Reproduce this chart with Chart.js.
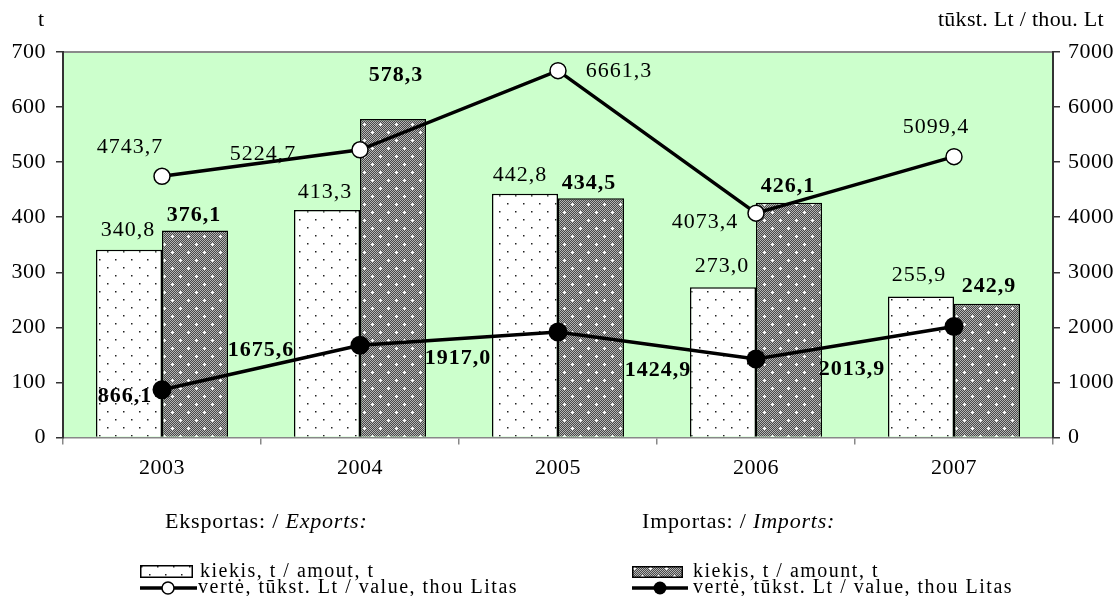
<!DOCTYPE html>
<html><head><meta charset="utf-8">
<script src="https://cdn.jsdelivr.net/npm/chart.js@4/dist/chart.umd.min.js"></script>
<style>
html,body{margin:0;padding:0;background:#fff;}
#wrap{position:relative;width:1118px;height:596px;overflow:hidden;}
#c{position:absolute;left:0;top:0;}
.tx{position:absolute;font-family:"Liberation Serif","Times New Roman",serif;color:#000;white-space:nowrap;line-height:22px;}
.hd{font-size:22px;letter-spacing:0.8px;}
.ti{font-size:22px;letter-spacing:0.3px;}
.it{font-size:20px;letter-spacing:1.5px;}
.sym{position:absolute;}
</style></head><body>
<div id="wrap">
<canvas id="c" width="1118" height="596"></canvas>
<div class="tx ti" style="left:38px;top:8px">t</div>
<div class="tx ti" style="right:14px;top:8px">tūkst. Lt / thou. Lt</div>
<div class="tx hd" style="left:165px;top:510px">Eksportas: / <i>Exports:</i></div>
<div class="tx hd" style="left:642px;top:510px">Importas: / <i>Imports:</i></div>
<canvas class="sym" id="s1" width="60" height="16" style="left:138px;top:563px"></canvas>
<div class="tx it" style="left:200px;top:559px">kiekis, t / amout, t</div>
<canvas class="sym" id="s2" width="60" height="20" style="left:138px;top:578px"></canvas>
<div class="tx it" style="left:198px;top:575px">vertė, tūkst. Lt / value, thou Litas</div>
<canvas class="sym" id="s3" width="60" height="16" style="left:630px;top:564px"></canvas>
<div class="tx it" style="left:693px;top:559px">kiekis, t / amount, t</div>
<canvas class="sym" id="s4" width="60" height="20" style="left:630px;top:578px"></canvas>
<div class="tx it" style="left:693px;top:575px">vertė, tūkst. Lt / value, thou Litas</div>
</div>
<script>
const years = ['2003', '2004', '2005', '2006', '2007'];
const exportAmount = [340.8, 413.3, 442.8, 273.0, 255.9];
const importAmount = [376.1, 578.3, 434.5, 426.1, 242.9];
const exportValue = [4743.7, 5224.7, 6661.3, 4073.4, 5099.4];
const importValue = [866.1, 1675.6, 1917.0, 1424.9, 2013.9];
const leftTickValues = [0, 100, 200, 300, 400, 500, 600, 700];
const rightTickValues = [0, 1000, 2000, 3000, 4000, 5000, 6000, 7000];

const FONT = '"Liberation Serif","Times New Roman",serif';
const fmt = v => v.toFixed(1).replace('.', ',');

function dotTile(){
  const c=document.createElement('canvas'); c.width=16; c.height=16;
  const g=c.getContext('2d');
  g.fillStyle='#fff'; g.fillRect(0,0,16,16);
  g.fillStyle='#222';
  g.fillRect(3,3,1.5,1.5); g.fillRect(11,11,1.5,1.5);
  return c;
}
function checkTile(){
  const c=document.createElement('canvas'); c.width=16; c.height=16;
  const g=c.getContext('2d');
  const im=g.createImageData(16,16);
  for(let y=0;y<16;y++)for(let x=0;x<16;x++){
    const v=((x+y)%2)?0x48:0xb4; const i=(y*16+x)*4;
    im.data[i]=v;im.data[i+1]=v;im.data[i+2]=v;im.data[i+3]=255;
  }
  const plus=(px,py)=>{[[0,0],[1,0],[-1,0],[0,1],[0,-1]].forEach(([dx,dy])=>{const i=((py+dy)*16+(px+dx))*4;im.data[i]=255;im.data[i+1]=255;im.data[i+2]=255;});};
  plus(4,4); plus(12,12);
  g.putImageData(im,0,0);
  return c;
}
const cctx=document.getElementById('c').getContext('2d');
const dotPat=cctx.createPattern(dotTile(),'repeat');
const chkPat=cctx.createPattern(checkTile(),'repeat');

// legend symbols
(function(){
  const a=document.getElementById('s1').getContext('2d');
  a.fillStyle=a.createPattern(dotTile(),'repeat'); a.fillRect(2,2,53,13);
  a.strokeStyle='#000'; a.lineWidth=1.5; a.strokeRect(2.75,2.75,51.5,11.5);
  const b=document.getElementById('s3').getContext('2d');
  b.fillStyle=b.createPattern(checkTile(),'repeat'); b.fillRect(2,2,51,12);
  b.strokeStyle='#000'; b.lineWidth=1.5; b.strokeRect(2.75,2.75,49.5,10.5);
  const l1=document.getElementById('s2').getContext('2d');
  l1.strokeStyle='#000'; l1.lineWidth=3.5; l1.beginPath(); l1.moveTo(2,10); l1.lineTo(59,10); l1.stroke();
  l1.beginPath(); l1.arc(30,10,6,0,Math.PI*2); l1.fillStyle='#fff'; l1.fill(); l1.lineWidth=1.5; l1.stroke();
  const l2=document.getElementById('s4').getContext('2d');
  l2.strokeStyle='#000'; l2.lineWidth=3.5; l2.beginPath(); l2.moveTo(2,10); l2.lineTo(58,10); l2.stroke();
  l2.beginPath(); l2.arc(30,10,6.5,0,Math.PI*2); l2.fillStyle='#000'; l2.fill();
})();

const bgPlugin={
  id:'bg',
  beforeDraw(chart){
    const {ctx,chartArea:a}=chart;
    ctx.letterSpacing='0.5px';
    ctx.save();
    ctx.fillStyle='#CCFFCC';
    ctx.fillRect(a.left,a.top,a.right-a.left,a.bottom-a.top);
    ctx.strokeStyle='#8a8a8a'; ctx.lineWidth=2;
    ctx.beginPath(); ctx.moveTo(a.left,a.top); ctx.lineTo(a.right,a.top); ctx.stroke();
    ctx.restore();
  }
};

const labelPlugin={
  id:'vlabels',
  afterDatasetsDraw(chart,args,opts){
    const ctx=chart.ctx;
    ctx.save();
    ctx.letterSpacing='1px';
    ctx.textAlign='center'; ctx.textBaseline='middle'; ctx.fillStyle='#000';
    chart.data.datasets.forEach((ds,di)=>{
      const meta=chart.getDatasetMeta(di);
      const off=opts.offsets[di];
      ctx.font=(opts.bold[di]?'bold ':'')+'22px '+FONT;
      meta.data.forEach((el,i)=>{
        ctx.fillText(fmt(ds.data[i]), el.x+off[i][0], el.y+off[i][1]);
      });
    });
    ctx.restore();
  }
};

new Chart(document.getElementById('c'),{
  type:'bar',
  data:{
    labels:years,
    datasets:[
      {type:'bar',data:exportAmount,yAxisID:'y',backgroundColor:dotPat,borderColor:'#000',borderWidth:1.5,order:2},
      {type:'bar',data:importAmount,yAxisID:'y',backgroundColor:chkPat,borderColor:'#000',borderWidth:1.5,order:2},
      {type:'line',data:exportValue,yAxisID:'y1',borderColor:'#000',borderWidth:3.5,pointRadius:8,pointBackgroundColor:'#fff',pointBorderColor:'#000',pointBorderWidth:1.5,tension:0,order:1},
      {type:'line',data:importValue,yAxisID:'y1',borderColor:'#000',borderWidth:3.5,pointRadius:9.5,pointBackgroundColor:'#000',pointBorderColor:'#000',pointBorderWidth:0,tension:0,order:1}
    ]
  },
  options:{
    responsive:false,animation:false,
    layout:{padding:{top:52,bottom:113.5,left:0,right:0}},
    datasets:{bar:{barPercentage:1,categoryPercentage:0.667}},
    plugins:{
      legend:{display:false},tooltip:{enabled:false},
      vlabels:{
        bold:[false,true,false,true],
        offsets:[
          [[-1,-20],[-2,-18],[-5,-18],[-1,-21],[-2,-21]],
          [[-1,-15],[3,-44],[-2,-15],[-1,-17],[2,-17]],
          [[-32,-29],[-97,4],[61,1],[-51,9],[-18,-29]],
          [[-37,7],[-99,5],[-100,26],[-98,11],[-102,43]]
        ]
      }
    },
    scales:{
      x:{
        grid:{display:true,drawOnChartArea:false,drawTicks:true,tickLength:7,color:'#888',lineWidth:1.5,offset:true},
        border:{display:true,color:'#888',width:1.5},
        ticks:{color:'#000',font:{family:FONT,size:22},padding:11},
        afterFit(s){s.height=45;}
      },
      y:{
        position:'left',min:0,max:700,
        afterBuildTicks(s){s.ticks=leftTickValues.map(v=>({value:v}));},
        grid:{display:true,drawOnChartArea:false,drawTicks:true,tickLength:7,color:'#333',lineWidth:1.5},
        border:{display:true,color:'#333',width:2},
        ticks:{color:'#000',font:{family:FONT,size:22},padding:10,callback:v=>String(v)},
        afterFit(s){s.width=63;}
      },
      y1:{
        position:'right',min:0,max:7000,
        afterBuildTicks(s){s.ticks=rightTickValues.map(v=>({value:v}));},
        grid:{display:true,drawOnChartArea:false,drawTicks:true,tickLength:7,color:'#333',lineWidth:1.5},
        border:{display:true,color:'#333',width:2},
        ticks:{color:'#000',font:{family:FONT,size:22},padding:8,callback:v=>String(v)},
        afterFit(s){s.width=65;}
      }
    }
  },
  plugins:[bgPlugin,labelPlugin]
});
</script>
</body></html>
